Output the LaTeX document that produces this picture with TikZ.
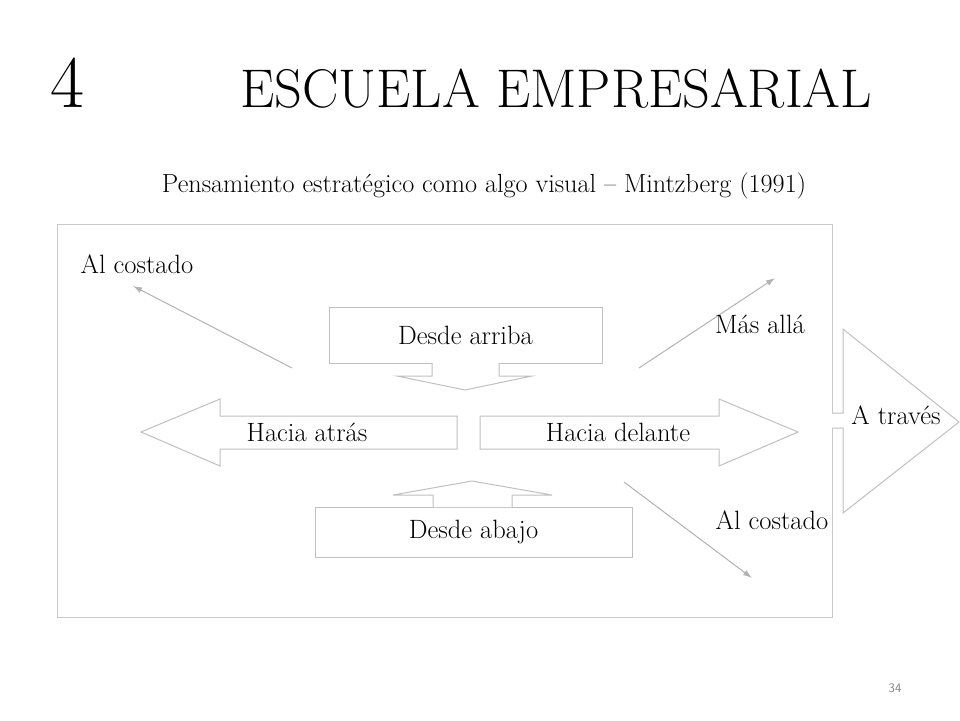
\documentclass[tikz,border=0pt]{standalone}
\usetikzlibrary{arrows.meta}
\definecolor{framegray}{RGB}{200,200,200}
\definecolor{linegray}{RGB}{192,192,192}
\definecolor{tipgray}{RGB}{178,178,178}
\begin{document}
\begin{tikzpicture}[x=1pt,y=-1pt,
        outline/.style={draw=linegray, line width=1pt},
        blockarrow/.style={draw=linegray, line width=1pt, fill=white},
        label/.style={anchor=base, inner sep=0pt, font=\fontsize{26.5}{30}\selectfont},
        sidearrow/.style={draw=tipgray, line width=1pt, -{Latex[length=9pt,width=6pt]}}]
            \useasboundingbox (0,0) rectangle (960,720);

            \node[anchor=base west, inner sep=0pt, font=\fontsize{74}{80}\selectfont] (num) at (50,107) {4};
            \node[anchor=base west, inner sep=0pt, font=\fontsize{54.5}{60}\selectfont] (title) at (240,107) {ESCUELA EMPRESARIAL};
            \node[label, font=\fontsize{26.2}{30}\selectfont] (sub) at (484,192) {Pensamiento estratégico como algo visual -- Mintzberg (1991)};

            \draw[draw=framegray, line width=1pt] (57,224) rectangle (832,617);

            % A traves, over the frame
            \fill[white] (826,413) -- (843,413) -- (843,329) -- (959,422) -- (843,513) -- (843,428) -- (826,428) -- cycle;
            \draw[outline] (832,413) -- (843,413) -- (843,329) -- (959,422) -- (843,513) -- (843,428) -- (832,428);
            \node[label] (traves) at (896,424) {A través};

            \node[outline, minimum width=273pt, minimum height=56pt, inner sep=0pt, font=\fontsize{26.5}{30}\selectfont] (arriba) at (465.5,335) {Desde arriba};
            \node[outline, minimum width=317pt, minimum height=50pt, inner sep=0pt, font=\fontsize{26.5}{30}\selectfont] (abajo) at (473.5,532) {Desde abajo};

            \draw[blockarrow] (432,363) -- (432,376) -- (397,376) -- (465,390) -- (532,376) -- (499,376) -- (499,363);
            \draw[blockarrow] (433,507) -- (433,495) -- (393,495) -- (472,481) -- (552,495) -- (512,495) -- (512,507);

            \draw[blockarrow] (457,416) -- (220,416) -- (220,399) -- (141,432) -- (220,466) -- (220,449) -- (457,449) -- cycle;
            \draw[blockarrow] (480,416) -- (719,416) -- (719,399) -- (798,432) -- (719,466) -- (719,449) -- (480,449) -- cycle;
            \node[label] (atras) at (307,441) {Hacia atrás};
            \node[label] (delante) at (618,441) {Hacia delante};

            \coordinate (lftA) at (292,368);
            \coordinate (lftB) at (133,286);
            \coordinate (upA) at (639,368);
            \coordinate (upB) at (775,278);
            \coordinate (dnA) at (624,482);
            \coordinate (dnB) at (752,578);
            \draw[sidearrow] (lftA) -- (lftB);
            \draw[sidearrow] (upA) -- (upB);
            \draw[sidearrow] (dnA) -- (dnB);

            \node[label] (costadoA) at (137,273) {Al costado};
            \node[label] (alla) at (760,333) {Más allá};
            \node[label] (costadoB) at (772,529) {Al costado};

            \node[anchor=base, inner sep=0pt, text=gray, font=\sffamily\fontsize{13}{15}\selectfont] (page) at (895,692) {34};

        \end{tikzpicture}
\end{document}
